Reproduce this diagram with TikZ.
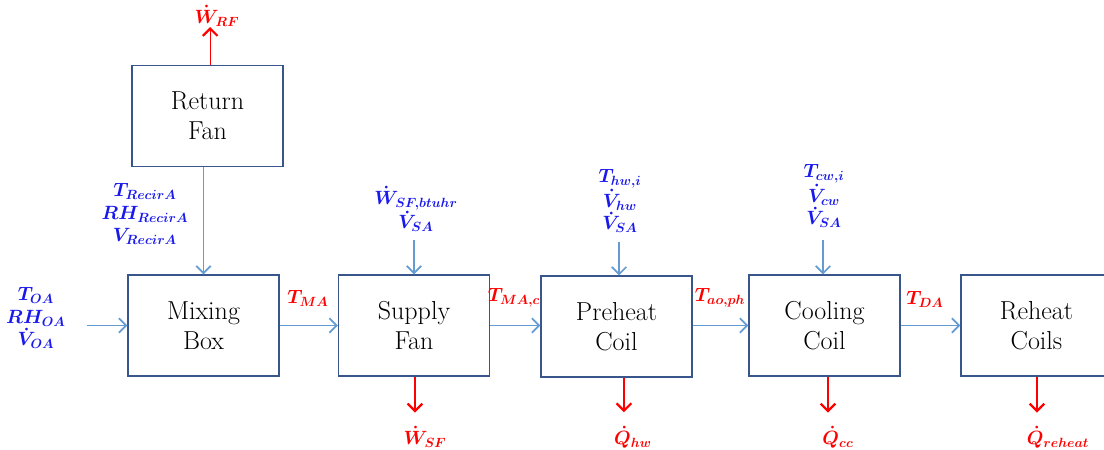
\documentclass[tikz,border=0pt]{standalone}
\usepackage{bm}
\usetikzlibrary{arrows.meta}
\definecolor{boxblue}{RGB}{56,86,140}
\definecolor{flowblue}{RGB}{100,155,210}
\definecolor{inblue}{RGB}{25,25,235}
\definecolor{outred}{RGB}{255,0,0}
\tikzset{
  unit/.style={draw=boxblue, line width=1.1pt, minimum width=113pt, minimum height=75.5pt,
    align=center, inner sep=0pt, font=\fontsize{19.5}{22.5}\selectfont},
  inlbl/.style={text=inblue, align=center, inner sep=1pt, font=\fontsize{14.5}{17}\selectfont},
  outlbl/.style={text=outred, inner sep=1pt, font=\fontsize{14.5}{17}\selectfont},
  flow/.style={draw=flowblue, line width=1.3pt, -{Straight Barb[length=5.5pt,width=11pt]}},
  loss/.style={draw=outred, line width=1pt, -{Straight Barb[length=5.5pt,width=11pt,line width=1.7pt]}}
}
\begin{document}
\begin{tikzpicture}[x=0.75pt,y=-0.75pt]
      \useasboundingbox (0,0) rectangle (1104,450);

      \node[unit] (RF) at (207.5,116) {Return\\Fan};
      \node[unit] (MB) at (203.5,325.5) {Mixing\\Box};
      \node[unit] (SF) at (414,325.5) {Supply\\Fan};
      \node[unit] (PC) at (616.5,326.5) {Preheat\\Coil};
      \node[unit] (CC) at (824.5,325.5) {Cooling\\Coil};
      \node[unit] (RC) at (1036.5,325.5) {Reheat\\Coils};

      \node[inlbl] (oa) at (36,318) {$\bm{T_{OA}}$\\$\bm{RH_{OA}}$\\$\bm{\dot V_{OA}}$};
      \node[inlbl] (recir) at (145,214) {$\bm{T_{RecirA}}$\\$\bm{RH_{RecirA}}$\\$\bm{V_{RecirA}}$};
      \node[inlbl] (sfin) at (416,209) {$\bm{\dot W_{SF,btuhr}}$\\$\bm{\dot V_{SA}}$};
      \node[inlbl] (pcin) at (620,201) {$\bm{T_{hw,i}}$\\$\bm{\dot V_{hw}}$\\$\bm{\dot V_{SA}}$};
      \node[inlbl] (ccin) at (824,196) {$\bm{T_{cw,i}}$\\$\bm{\dot V_{cw}}$\\$\bm{\dot V_{SA}}$};

      \node[outlbl] (wrf) at (217,16) {$\bm{\dot W_{RF}}$};
      \node[outlbl] (tma) at (308,298) {$\bm{T_{MA}}$};
      \node[outlbl] (tmac) at (514,298) {$\bm{T_{MA,c}}$};
      \node[outlbl] (taoph) at (720,298) {$\bm{T_{ao,ph}}$};
      \node[outlbl] (tda) at (925,299) {$\bm{T_{DA}}$};
      \node[outlbl] (wsf) at (425,437) {$\bm{\dot W_{SF}}$};
      \node[outlbl] (qhw) at (633,437) {$\bm{\dot Q_{hw}}$};
      \node[outlbl] (qcc) at (838,437) {$\bm{\dot Q_{cc}}$};
      \node[outlbl] (qrh) at (1058,437) {$\bm{\dot Q_{reheat}}$};

      \draw[flow] ([xshift=-30pt]MB.west) -- (MB.west);
      \draw[flow] (MB.north |- RF.south) -- (MB.north);
      \draw[flow] (MB.east) -- (SF.west |- MB.east);
      \draw[flow] (SF.east) -- (PC.west |- SF.east);
      \draw[flow] (PC.east |- CC.west) -- (CC.west);
      \draw[flow] (CC.east) -- (RC.west);
      \draw[flow] ([yshift=26pt]SF.north) -- (SF.north);
      \draw[flow] ([xshift=1.9pt,yshift=25pt]PC.north) -- ([xshift=1.9pt]PC.north);
      \draw[flow] ([xshift=-1.1pt,yshift=26pt]CC.north) -- ([xshift=-1.1pt]CC.north);

      \draw[loss] ([xshift=2pt]RF.north) -- ([xshift=2pt,yshift=28.5pt]RF.north);
      \draw[loss] ([xshift=0.7pt]SF.south) -- ([xshift=0.7pt,yshift=-27pt]SF.south);
      \draw[loss] ([xshift=5.6pt]PC.south) -- ([xshift=5.6pt,yshift=-26pt]PC.south);
      \draw[loss] ([xshift=2.6pt]CC.south) -- ([xshift=2.6pt,yshift=-27pt]CC.south);
      \draw[loss] ([xshift=0.4pt]RC.south) -- ([xshift=0.4pt,yshift=-27pt]RC.south);
    \end{tikzpicture}
\end{document}
